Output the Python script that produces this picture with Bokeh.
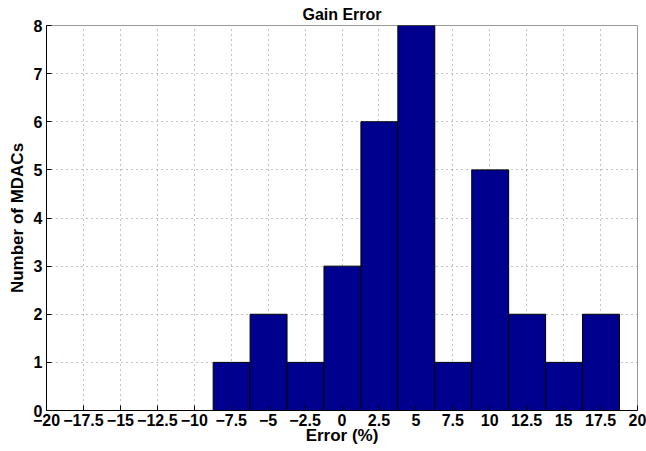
from bokeh.plotting import figure
from bokeh.models import FixedTicker, Range1d, ColumnDataSource
from bokeh.embed import file_html
from bokeh.resources import INLINE

# Histogram data
bin_left = [-8.72, -6.22, -3.72, -1.22, 1.28, 3.78, 6.28, 8.78, 11.28, 13.78, 16.28]
bin_right = [-6.22, -3.72, -1.22, 1.28, 3.78, 6.28, 8.78, 11.28, 13.78, 16.28, 18.78]
counts = [1, 2, 1, 3, 6, 8, 1, 5, 2, 1, 2]

x_ticks = [-20, -17.5, -15, -12.5, -10, -7.5, -5, -2.5, 0, 2.5, 5, 7.5, 10, 12.5, 15, 17.5, 20]
y_ticks = [0, 1, 2, 3, 4, 5, 6, 7, 8]

FONT = "Liberation Sans"

p = figure(width=646, height=451, output_backend="svg", toolbar_location=None,
           x_range=Range1d(-20, 20), y_range=Range1d(0, 8),
           min_border_left=46, min_border_right=9, min_border_top=25, min_border_bottom=41,
           title="Gain Error")

p.title.text_font = FONT
p.title.text_font_style = "bold"
p.title.text_font_size = "16px"
p.title.text_color = "#000000"
p.title.align = "center"
p.title.offset = 0
p.title.standoff = 6

src = ColumnDataSource(dict(left=bin_left, right=bin_right, top=counts, bottom=[0] * len(counts)))
p.quad(left="left", right="right", top="top", bottom="bottom", source=src,
       fill_color="#00008F", line_color="#000000", line_width=1)

def fmt(v):
    s = ("%g" % v)
    return s.replace("-", "\u2212")

p.xaxis.ticker = FixedTicker(ticks=x_ticks)
p.xaxis.major_label_overrides = {t: fmt(t) for t in x_ticks}
p.yaxis.ticker = FixedTicker(ticks=y_ticks)

for ax in (p.xaxis, p.yaxis):
    ax.major_label_text_font = FONT
    ax.major_label_text_font_style = "bold"
    ax.major_label_text_font_size = "16px"
    ax.major_label_text_color = "#000000"
    ax.axis_label_text_font = FONT
    ax.axis_label_text_font_style = "bold"
    ax.axis_label_text_font_size = "17px"
    ax.axis_label_text_color = "#000000"
    ax.major_tick_in = 5
    ax.major_tick_out = 0
    ax.minor_tick_line_color = None
    ax.axis_line_color = "#000000"
    ax.major_tick_line_color = "#000000"

p.xaxis.axis_label = "Error (%)"
p.yaxis.axis_label = "Number of MDACs"
p.xaxis.major_label_standoff = 3
p.xaxis.axis_label_standoff = -3
p.yaxis.major_label_standoff = 4
p.yaxis.axis_label_standoff = 4

p.xgrid.grid_line_color = "#888888"
p.ygrid.grid_line_color = "#888888"
p.xgrid.grid_line_dash = "1 4"
p.ygrid.grid_line_dash = "1 4"
p.xgrid.ticker = FixedTicker(ticks=x_ticks)
p.ygrid.ticker = FixedTicker(ticks=y_ticks)

p.outline_line_color = "#999999"
p.background_fill_color = "#ffffff"
p.border_fill_color = "#ffffff"

open("out.html", "w").write(file_html(p, INLINE))
